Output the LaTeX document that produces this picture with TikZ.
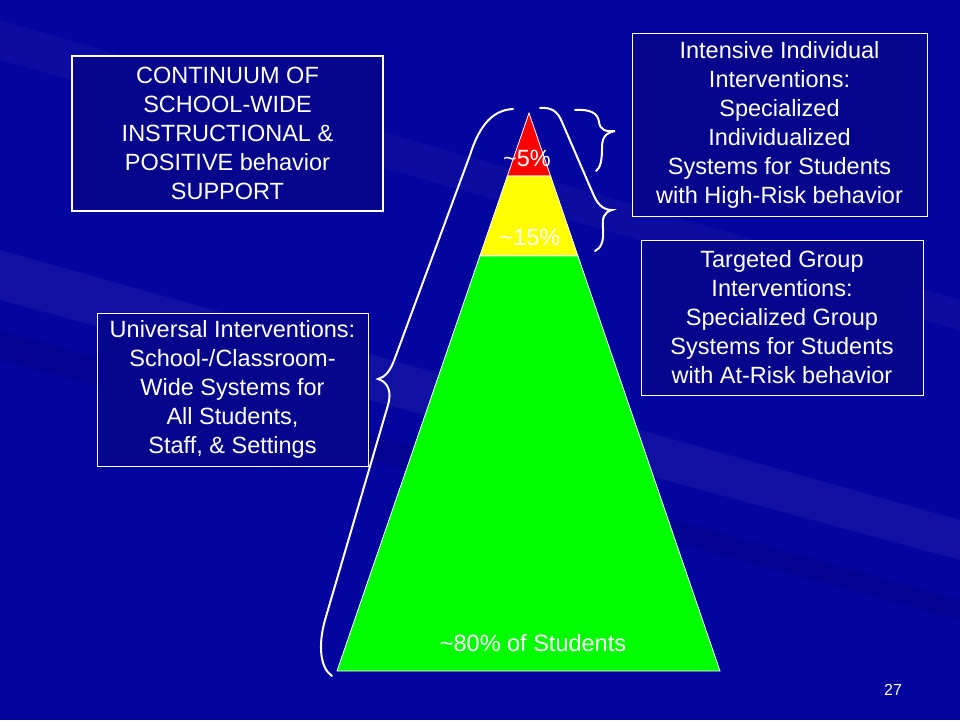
\documentclass[tikz,border=0pt]{standalone}
\usepackage{fontspec}
\setmainfont{Liberation Sans}
\usepackage{tikz}
\usetikzlibrary{positioning, calc}

\definecolor{slidebg}{RGB}{4,4,158}
\definecolor{boxbg}{RGB}{6,6,140}
\definecolor{tierred}{RGB}{255,0,0}
\definecolor{tieryellow}{RGB}{255,255,0}
\definecolor{tiergreen}{RGB}{0,255,0}

\tikzset{
    infobox/.style={draw=white, fill=boxbg, text=white, align=center, inner sep=0pt,
        font=\fontsize{23.5}{29}\selectfont},
    tierlabel/.style={text=white, inner sep=0pt, font=\fontsize{23.5}{28}\selectfont},
    brace/.style={draw=white, line width=2pt, line cap=round},
}

\begin{document}
\begin{tikzpicture}[x=1pt, y=-1pt]
    % background
    \fill[slidebg] (0,0) rectangle (960,720);
    \useasboundingbox (0,0) rectangle (960,720);
    \fill[white, opacity=0.05] (0,250) -- (960,520) -- (960,560) -- (0,300) -- cycle;
    \fill[black, opacity=0.08] (0,330) -- (960,600) -- (960,620) -- (0,360) -- cycle;
    \fill[white, opacity=0.035] (0,20) -- (960,300) -- (960,330) -- (0,60) -- cycle;

    % triangle corners
    \coordinate (apex) at (529,113);
    \coordinate (bl) at (337,671);
    \coordinate (br) at (720,671);

    % draw the three tiers
    \foreach \tier/\ta/\tb/\co in {
        top/0/0.113/tierred,
        mid/0.113/0.256/tieryellow,
        low/0.256/1/tiergreen}
    {
        \filldraw[fill=\co, draw=white, line width=0.8pt]
            ($(apex)!\ta!(bl)$) -- ($(apex)!\tb!(bl)$) -- ($(apex)!\tb!(br)$) -- ($(apex)!\ta!(br)$) -- cycle;
    }

    \node[tierlabel] (five) at (527,158) {\char`~5\%};
    \node[tierlabel] (fifteen) at (530,237) {\char`~15\%};
    \node[tierlabel] (eighty) at (533,643) {\char`~80\% of Students};

    % text boxes
    \node[infobox, line width=1.8pt, minimum width=311pt, minimum height=155pt] (continuum) at (227.5,133.5)
        {CONTINUUM OF\\SCHOOL-WIDE\\INSTRUCTIONAL \&\\POSITIVE behavior\\SUPPORT};
    \node[infobox, line width=0.9pt, minimum width=271pt, minimum height=153pt] (universal) at (232.5,389.5)
        {Universal Interventions:\\School-/Classroom-\\Wide Systems for\\All Students,\\Staff, \& Settings};
    \node[infobox, line width=0.9pt, minimum width=295pt, minimum height=183pt] (intensive) at (779.5,124.5)
        {Intensive Individual\\Interventions:\\Specialized\\Individualized\\Systems for Students\\with High-Risk behavior};
    \node[infobox, line width=0.9pt, minimum width=282pt, minimum height=155pt] (targeted) at (782,317.5)
        {Targeted Group\\Interventions:\\Specialized Group\\Systems for Students\\with At-Risk behavior};

    % braces
    \draw[brace] (513,109) .. controls (490,110) and (478,130) .. (470,155) -- (395,358)
        .. controls (390,372) and (385,377) .. (378,379) .. controls (388,382) and (392,392) .. (388,405)
        -- (325,620) .. controls (318,645) and (320,668) .. (332,676);
    \draw[brace] (540,108) .. controls (552,107) and (558,112) .. (562,122) -- (594,196)
        .. controls (598,205) and (604,210) .. (612,210) .. controls (604,212) and (602,218) .. (603,228)
        .. controls (604,242) and (601,248) .. (595,251);
    \draw[brace] (575,110) .. controls (590,109) and (598,113) .. (599,122)
        .. controls (600,130) and (606,132) .. (615,131) .. controls (605,133) and (602,138) .. (602,148)
        .. controls (602,162) and (600,168) .. (596,171);

    % slide number
    \node[text=white, inner sep=0pt, font=\fontsize{16}{18}\selectfont] (pagenum) at (893,690) {27};
\end{tikzpicture}
\end{document}
